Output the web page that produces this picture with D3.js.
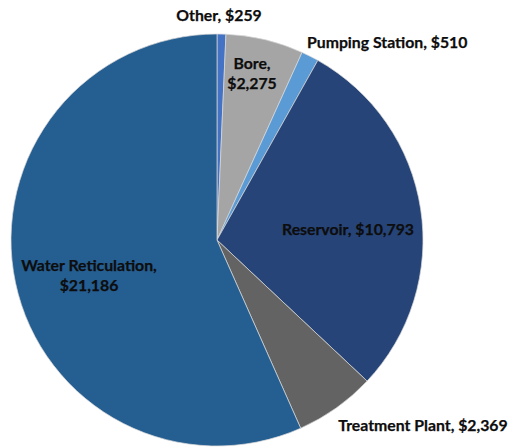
<!DOCTYPE html>
<html><head><meta charset="utf-8">
<script src="https://cdn.jsdelivr.net/npm/d3@7"></script>
<style>html,body{margin:0;padding:0;background:#fff;}svg{display:block;}</style>
</head><body>
<svg id="chart" width="513" height="447"></svg>
<script>
const categories = ["Other", "Bore", "Pumping Station", "Reservoir", "Treatment Plant", "Water Reticulation"];
const values = [259, 2275, 510, 10793, 2369, 21186];
const colors = ["#4472C4", "#A5A5A5", "#5B9BD5", "#264478", "#636363", "#255E91"];

// label placement (offset of first line centre from pie centre) and text lines
const labelLayout = {
  "Other":              {dx: 2,   dy: -225, anchor: "middle", lines: ["Other, $259"]},
  "Bore":               {dx: 35,  dy: -177, anchor: "middle", lines: ["Bore,", "$2,275"]},
  "Pumping Station":    {dx: 90,  dy: -198, anchor: "start",  lines: ["Pumping Station, $510"]},
  "Reservoir":          {dx: 131, dy: -11,  anchor: "middle", lines: ["Reservoir, $10,793"]},
  "Treatment Plant":    {dx: 206, dy: 185,  anchor: "middle", lines: ["Treatment Plant, $2,369"]},
  "Water Reticulation": {dx: -128,dy: 25,   anchor: "middle", lines: ["Water Reticulation,", "$21,186"]}
};

const cx = 217, cy = 240, R = 206;
const svg = d3.select("#chart");
const data = categories.map((c, i) => ({cat: c, value: values[i], color: colors[i]}));
const pie = d3.pie().value(d => d.value).sort(null);
const arc = d3.arc().innerRadius(0).outerRadius(R);
const g = svg.append("g").attr("transform", `translate(${cx},${cy})`);
g.selectAll("path").data(pie(data)).join("path")
  .attr("d", arc).attr("fill", d => d.data.color)
  .attr("stroke", "#d9d9d9").attr("stroke-width", 0.7);

const lg = svg.append("g").attr("transform", `translate(${cx},${cy})`);
data.forEach(d => {
  const L = labelLayout[d.cat];
  const t = lg.append("text").attr("x", L.dx).attr("y", L.dy)
    .attr("text-anchor", L.anchor)
    .attr("font-family", "Lato, 'Open Sans', sans-serif").attr("font-weight", 700)
    .attr("font-size", 15.8).attr("fill", "#0d0d0d")
    .attr("stroke", "#0d0d0d").attr("stroke-width", 0.25);
  L.lines.forEach((s, i) => {
    t.append("tspan").attr("x", L.dx).attr("y", L.dy + i * 20).attr("dy", "0.35em").text(s);
  });
});
</script>
</body></html>
